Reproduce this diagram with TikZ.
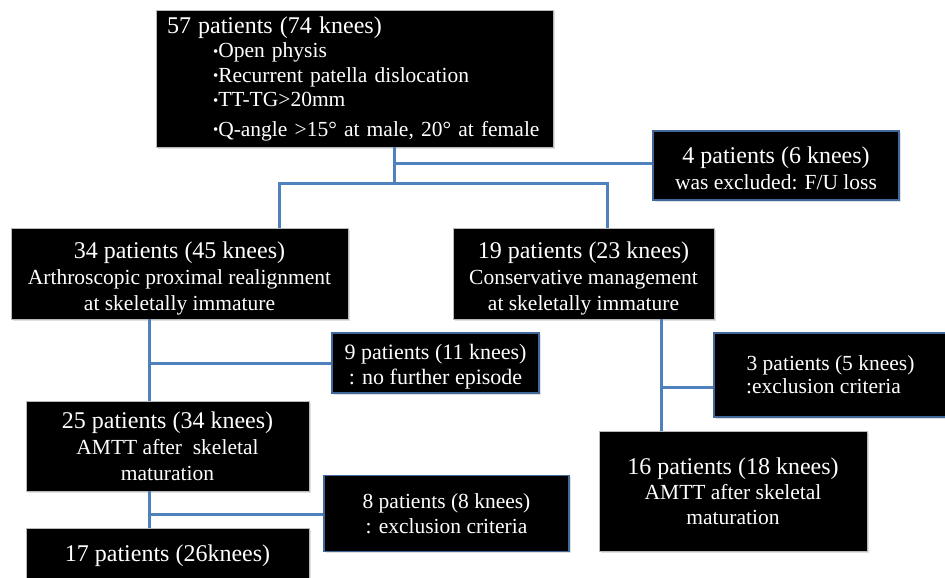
\documentclass[tikz,border=0pt]{standalone}
\usepackage{fontspec}
\setmainfont{Liberation Serif}
\usetikzlibrary{shadows}
\definecolor{connblue}{HTML}{4F81BD}
\definecolor{exborder}{HTML}{41689A}
\newcommand\bul{\raisebox{1.5pt}{\fontsize{15}{15}\selectfont •}}
\newcommand\bigline{\fontsize{24}{26}\selectfont}
\begin{document}
\begin{tikzpicture}[x=1pt,y=-1pt,
  shadowed/.style={drop shadow={shadow xshift=1.5pt,shadow yshift=-1.5pt,opacity=0.25}},
  mainbox/.style={shadowed,draw=gray!55,line width=0.6pt,fill=black,text=white,
    align=center,inner sep=0pt,font=\fontsize{21.5}{26}\selectfont},
  exbox/.style={shadowed,draw=exborder,line width=1.8pt,fill=black,text=white,
    align=center,inner sep=0pt,font=\fontsize{21.5}{26}\selectfont},
  conn/.style={draw=connblue,line width=3pt}]
\useasboundingbox (0,0) rectangle (945,578);

% boxes
\node[mainbox,align=left,text width=375pt,inner xsep=11pt,
      minimum width=397pt,minimum height=137pt,
      font=\fontsize{21.5}{24.5}\selectfont] (top) at (354.5,78.5)
  {{\bigline 57 patients (74 knees)}\\
   \hspace*{46pt}\bul Open physis\\
   \hspace*{46pt}\bul Recurrent patella dislocation\\
   \hspace*{46pt}\bul TT-TG>20mm\\[5pt]
   \hspace*{46pt}\bul Q-angle >15° at male, 20° at female};

\node[exbox,minimum width=246pt,minimum height=69pt] (ex4) at (776,165.5)
  {{\bigline\rule{0pt}{22pt}4 patients (6 knees)}\\was excluded: F/U loss};

\node[mainbox,minimum width=337pt,minimum height=91pt] (b34) at (179.5,273.5)
  {{\bigline\rule{0pt}{26pt}34 patients (45 knees)}\\Arthroscopic proximal realignment\\at skeletally immature};

\node[mainbox,minimum width=261pt,minimum height=91pt] (b19) at (583.5,273.5)
  {{\bigline\rule{0pt}{27pt}19 patients (23 knees)}\\Conservative management\\at skeletally immature};

\node[exbox,minimum width=207pt,minimum height=60pt,
      font=\fontsize{22}{25}\selectfont] (ex9) at (435.5,363)
  {\rule{0pt}{22pt}9 patients (11 knees)\\: no further episode};

\node[exbox,minimum width=233pt,minimum height=84pt,
      font=\fontsize{21.5}{23}\selectfont] (ex3) at (830.5,375)
  {3 patients (5 knees)\\:exclusion criteria\hspace*{14pt}};

\node[mainbox,minimum width=283pt,minimum height=90pt] (b25) at (167.5,446)
  {{\bigline 25 patients (34 knees)}\\AMTT after\ \ skeletal\\maturation};

\node[mainbox,minimum width=268pt,minimum height=120pt,
      font=\fontsize{21.5}{25}\selectfont] (b16) at (733,491)
  {{\bigline 16 patients (18 knees)}\\AMTT after skeletal\\maturation};

\node[exbox,minimum width=245pt,minimum height=76pt,
      font=\fontsize{21.5}{25}\selectfont] (ex8) at (446.5,513.5)
  {8 patients (8 knees)\\: exclusion criteria};

\node[mainbox,minimum width=283pt,minimum height=56pt] (b17) at (167.5,556)
  {{\bigline 17 patients (26knees)}};

% connectors
\coordinate (jt) at (394,163);
\coordinate (jb) at (394,183);
\coordinate (l1) at (279,183);
\coordinate (r1) at (607,183);
\draw[conn] (jt |- top.south) -- (jb);
\draw[conn] (jt) -- (jt -| ex4.west);
\draw[conn] (l1 |- b34.north) -- (l1) -- (r1) -- (r1 |- b19.north);

\coordinate (c2) at (149,363);
\draw[conn] (c2 |- b34.south) -- (c2 |- b25.north);
\draw[conn] (c2) -- (c2 -| ex9.west);

\coordinate (c3) at (149,514);
\draw[conn] (c3 |- b25.south) -- (c3 |- b17.north);
\draw[conn] (c3) -- (c3 -| ex8.west);

\coordinate (c4) at (661,387);
\draw[conn] (c4 |- b19.south) -- (c4 |- b16.north);
\draw[conn] (c4) -- (c4 -| ex3.west);
\end{tikzpicture}
\end{document}
